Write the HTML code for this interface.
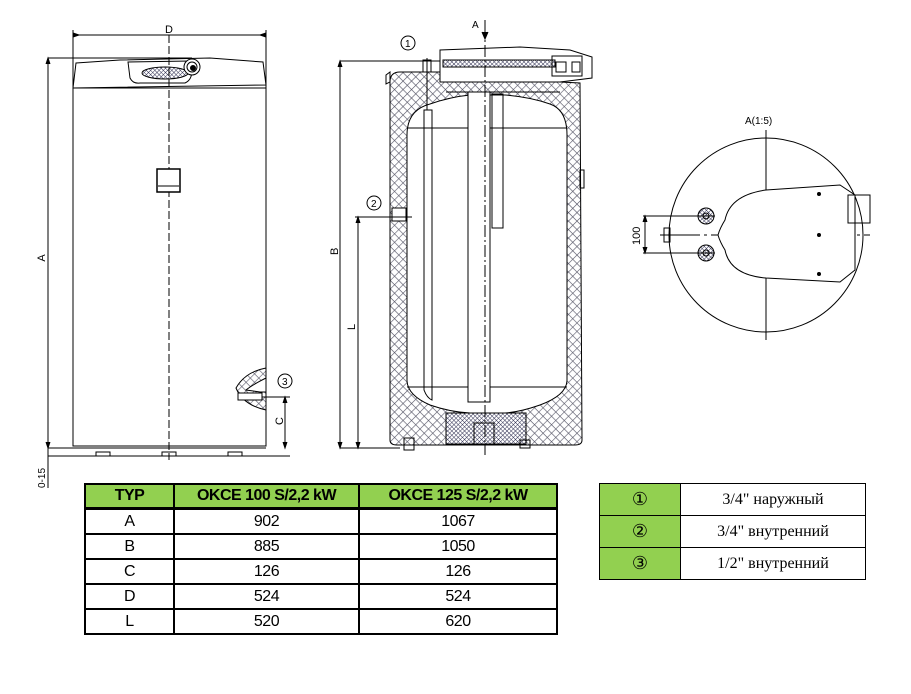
<!DOCTYPE html>
<html><head><meta charset="utf-8"><style>
body{margin:0;background:#fff;width:911px;height:694px;overflow:hidden;position:relative;font-family:"Liberation Sans",sans-serif}
svg{position:absolute;left:0;top:0}
table{position:absolute;border-collapse:collapse}
#t1{left:84px;top:483px;width:474px;font-family:"Liberation Sans",sans-serif;font-size:16px;letter-spacing:-0.5px}
#t1 td{border:2px solid #000;text-align:center;height:23px;padding:0}
#t1 tr.h td{background:#92d050;font-weight:bold;height:22px;border-bottom:3px solid #000}
#t2{left:599px;top:483px;width:267px;font-family:"Liberation Serif","DejaVu Serif",serif;font-size:16px}
#t2 td{border:1px solid #000;height:31px;padding:0;text-align:center}
#t2 td.g{background:#92d050;width:80px;font-size:18px}
</style></head><body>
<svg width="911" height="694" viewBox="0 0 911 694">
<defs>
<pattern id="hx" width="6" height="6" patternUnits="userSpaceOnUse" patternTransform="rotate(45)">
<rect width="6" height="6" fill="#fff"/><path d="M0 0H6M0 0V6" stroke="#556" stroke-width="1.2"/></pattern>
<pattern id="hd" width="3" height="3" patternUnits="userSpaceOnUse" patternTransform="rotate(45)">
<rect width="3" height="3" fill="#fff"/><path d="M0 0H3M0 0V3" stroke="#335" stroke-width="1"/></pattern>
</defs>
<g stroke="#000" fill="none" stroke-width="1">
<!-- LEFT VIEW -->
<line x1="73" y1="35" x2="266" y2="35"/><line x1="73" y1="30" x2="73" y2="88"/><line x1="266" y1="30" x2="266" y2="88"/>
<path d="M73 37l6-2-6-2M266 37l-6-2 6-2" fill="#000"/>
<path d="M76 63 L120 60 L210 58 L263 62 L266 85 L73 88 Z" fill="#fff"/>
<path d="M128 62 L130 78 Q133 84 140 83 L185 83 Q192 80 192 70 L190 61 Z"/>
<ellipse cx="165" cy="73" rx="23" ry="6" fill="url(#hd)"/>
<circle cx="192" cy="67" r="8" fill="#fff"/><circle cx="192" cy="67" r="5"/><circle cx="193" cy="68" r="2.5" fill="#000"/>
<line x1="48" y1="58" x2="192" y2="58"/>
<rect x="73" y="88" width="193" height="358"/>
<line x1="73" y1="448" x2="266" y2="448"/>
<line x1="48" y1="448" x2="73" y2="448"/>
<line x1="48" y1="456" x2="290" y2="456"/>
<line x1="48" y1="58" x2="48" y2="470"/>
<path d="M46 64l2-6 2 6M46 442l2 6 2-6" fill="#000"/>
<path d="M96 452h14v4h-14zM162 452h14v4h-14zM228 452h14v4h-14z"/>
<line x1="169" y1="35" x2="169" y2="460" stroke-dasharray="8,3"/>
<rect x="157" y="169" width="23" height="23" fill="#fff" stroke-width="1.5"/>
<line x1="158" y1="186" x2="179" y2="186"/>
<path d="M266 368 Q245 372 236 388 Q243 405 266 410 Z" fill="url(#hx)"/>
<path d="M266 378 Q252 385 246 390 L260 392 L266 392Z" fill="#fff"/>
<rect x="238" y="393" width="24" height="7" fill="#fff"/>
<line x1="262" y1="397" x2="290" y2="397"/>
<line x1="285" y1="397" x2="285" y2="448"/>
<path d="M283 403l2-6 2 6M283 442l2 6 2-6" fill="#000"/>
<circle cx="285" cy="381" r="7"/>
<line x1="48" y1="456" x2="48" y2="488"/>
<!-- MIDDLE VIEW -->
<path d="M390 82 Q390 72 400 72 L440 72 L440 82 L560 82 L580 83 L582 440 Q582 445 575 445 L397 445 Q390 445 390 440 Z" fill="url(#hx)"/>
<path d="M407 135 Q407 110 430 104 Q450 97 470 95 L505 95 Q530 97 550 104 Q567 110 567 135 L567 380 Q567 395 540 405 Q520 412 505 413 L470 413 Q450 412 430 405 Q407 395 407 380 Z" fill="#fff"/>
<line x1="407" y1="128" x2="567" y2="128"/><line x1="407" y1="387" x2="567" y2="387"/>
<rect x="446" y="413" width="80" height="31" fill="url(#hd)"/>
<rect x="474" y="423" width="20" height="21" fill="url(#hd)"/>
<path d="M440 82 L440 50 L520 47 L570 50 L592 57 L592 78 L560 82 Z" fill="#fff"/>
<rect x="443" y="60" width="112" height="7" fill="url(#hd)"/>
<path d="M446 92 L560 92"/>
<path d="M552 56 h30 v20 h-30 z M556 62 h10 v10 h-10z M572 62 h8 v10 h-8z"/>
<path d="M424 110 L424 390 Q427 398 432 400 L432 110 Z"/>
<rect x="468" y="92" width="22" height="310" fill="#fff"/>
<rect x="492" y="94" width="11" height="134"/>
<line x1="485" y1="25" x2="485" y2="455" stroke-dasharray="12,3,2,3"/>
<line x1="340" y1="61" x2="440" y2="61"/>
<line x1="340" y1="448" x2="400" y2="448"/>
<line x1="340" y1="61" x2="340" y2="448"/>
<path d="M338 67l2-6 2 6M338 442l2 6 2-6" fill="#000"/>
<rect x="423" y="60" width="8" height="12"/>
<line x1="427" y1="58" x2="427" y2="110"/>
<rect x="392" y="208" width="14" height="13" fill="#fff"/>
<line x1="355" y1="217" x2="412" y2="217"/>
<line x1="358" y1="217" x2="358" y2="448"/>
<path d="M356 223l2-6 2 6M356 442l2 6 2-6" fill="#000"/>
<circle cx="408" cy="43" r="7"/><circle cx="374" cy="203" r="7"/>
<path d="M485 20 v18" /><path d="M482 32l3 7 3-7" fill="#000"/>
<path d="M404 438h10v12h-10zM520 440h10v8h-10z"/>
<path d="M386 75 l4 -3 v10 l-4 2z M580 170 h4 v18 h-4z"/>
<!-- RIGHT VIEW -->
<circle cx="766" cy="235" r="97"/>
<line x1="766" y1="130" x2="766" y2="340"/>
<line x1="660" y1="235" x2="870" y2="235" stroke-dasharray="40,4,3,4"/>
<path d="M766 190 L840 185 L855 195 L855 270 L840 282 L766 278 Q730 275 725 250 Q720 242 718 235 Q720 228 725 220 Q730 195 766 190 Z" fill="#fff"/>
<rect x="848" y="195" width="22" height="28"/>
<circle cx="706" cy="216" r="8" fill="url(#hd)"/><circle cx="706" cy="216" r="3"/>
<circle cx="706" cy="253" r="8" fill="url(#hd)"/><circle cx="706" cy="253" r="3"/>
<line x1="643" y1="216" x2="715" y2="216"/><line x1="643" y1="253" x2="715" y2="253"/>
<line x1="645" y1="216" x2="645" y2="253"/>
<path d="M643 222l2-6 2 6M643 247l2 6 2-6" fill="#000"/>
<rect x="664" y="228" width="6" height="14"/>
<circle cx="819" cy="194" r="1.5" fill="#000"/><circle cx="819" cy="235" r="1.5" fill="#000"/><circle cx="819" cy="274" r="1.5" fill="#000"/>
</g>
<g font-family="Liberation Sans,sans-serif" font-size="11" fill="#000">
<text x="165" y="33">D</text>
<text x="45" y="258" transform="rotate(-90 45 258)" text-anchor="middle">A</text>
<text x="283" y="425" transform="rotate(-90 283 425)">C</text>
<text x="45" y="488" transform="rotate(-90 45 488)" font-size="10">0-15</text>
<text x="282" y="385" font-size="10">3</text>
<text x="338" y="255" transform="rotate(-90 338 255)">B</text>
<text x="355" y="330" transform="rotate(-90 355 330)">L</text>
<text x="405" y="47" font-size="10">1</text><text x="371" y="207" font-size="10">2</text>
<text x="472" y="28" font-size="10">A</text>
<text x="745" y="124" font-size="10">A(1:5)</text>
<text x="640" y="245" transform="rotate(-90 640 245)" font-size="11">100</text>
</g>
</svg>
<table id="t1">
<tr class="h"><td style="width:87px">TYP</td><td style="width:183px">OKCE 100 S/2,2 kW</td><td>OKCE 125 S/2,2 kW</td></tr>
<tr><td>A</td><td>902</td><td>1067</td></tr>
<tr><td>B</td><td>885</td><td>1050</td></tr>
<tr><td>C</td><td>126</td><td>126</td></tr>
<tr><td>D</td><td>524</td><td>524</td></tr>
<tr><td>L</td><td>520</td><td>620</td></tr>
</table>
<table id="t2">
<tr><td class="g">①</td><td>3/4" наружный</td></tr>
<tr><td class="g">②</td><td>3/4" внутренний</td></tr>
<tr><td class="g">③</td><td>1/2" внутренний</td></tr>
</table>
</body></html>
